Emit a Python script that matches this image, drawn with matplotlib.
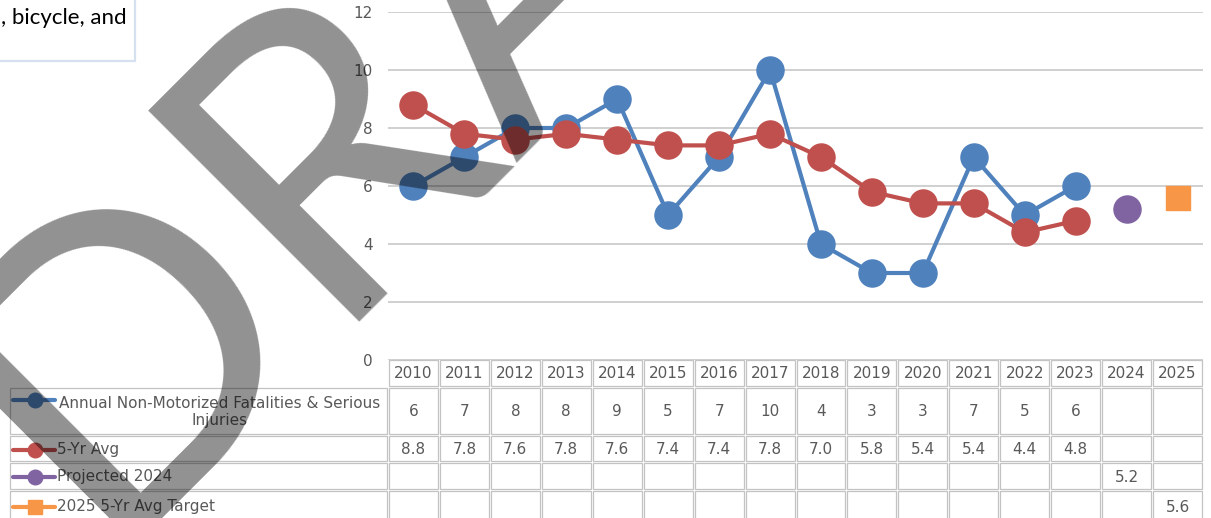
import matplotlib.pyplot as plt
import matplotlib.transforms as mtransforms
from matplotlib.patches import Rectangle
from matplotlib.lines import Line2D
import numpy as np

W, H = 1211, 518

years = ['2010', '2011', '2012', '2013', '2014', '2015', '2016', '2017',
         '2018', '2019', '2020', '2021', '2022', '2023', '2024', '2025']
annual = [6, 7, 8, 8, 9, 5, 7, 10, 4, 3, 3, 7, 5, 6, np.nan, np.nan]
avg5 = [8.8, 7.8, 7.6, 7.8, 7.6, 7.4, 7.4, 7.8, 7.0, 5.8, 5.4, 5.4, 4.4, 4.8, np.nan, np.nan]
projected = [np.nan] * 14 + [5.2, np.nan]
target = [np.nan] * 15 + [5.6]

names = ['Annual Non-Motorized Fatalities & Serious\nInjuries', '5-Yr Avg',
         'Projected 2024', '2025 5-Yr Avg Target']
series = [annual, avg5, projected, target]
colors = ['#4F81BD', '#C0504D', '#8064A2', '#F79646']
markers = ['o', 'o', 'o', 's']
fmts = ['{:.0f}', '{:.1f}', '{:.1f}', '{:.1f}']

txt_col = '#595959'
grid_col = '#C4C4C4'

fig = plt.figure(figsize=(W / 100, H / 100), dpi=100)
# pixel transform: x from left, y from top
pix = mtransforms.Affine2D().scale(1 / W, -1 / H).translate(0, 1) + fig.transFigure

ax = fig.add_axes([388 / W, 1 - 360 / H, (1203 - 388) / W, (360 - 12) / H])
x = np.arange(len(years))
for vals, c, m in zip(series, colors, markers):
    ms = 17.5 if m == 's' else 19.5
    ax.plot(x, vals, color=c, lw=3, marker=m, ms=ms, solid_capstyle='round')

ax.set_xlim(-0.5, len(years) - 0.5)
ax.set_ylim(0, 12)
ax.set_yticks(range(0, 13, 2))
ax.set_xticks([])
ax.tick_params(axis='y', length=0, pad=11, labelsize=11, labelcolor=txt_col)
ax.grid(axis='y', color=grid_col, lw=1.1)
ax.set_axisbelow(True)
for s in ax.spines.values():
    s.set_visible(False)
ax.patch.set_visible(False)

# data table under the plot
tb = mtransforms.blended_transform_factory(ax.transData, pix)
px1 = len(years) / (1203 - 388)  # one pixel in data units
rows = [(359, 387), (387, 435), (435, 462), (462, 490), (490, 522)]
border = '#C3C3C3'


def cell(x0, x1, y0, y1, trans):
    fig.add_artist(Rectangle((x0, y0), x1 - x0, y1 - y0, transform=trans,
                             fill=False, ec=border, lw=0.9, zorder=2))


for i, yr in enumerate(years):
    cell(i - 0.5 + px1, i + 0.5 - px1, rows[0][0] + 1, rows[0][1] - 1, tb)
    fig.text(i, (rows[0][0] + rows[0][1]) / 2 + 1, yr, transform=tb, ha='center', va='center',
             fontsize=11, color=txt_col, zorder=3)

for r, (vals, name, c, m, f) in enumerate(zip(series, names, colors, markers, fmts)):
    y0, y1 = rows[r + 1]
    yc = (y0 + y1) / 2 + 1
    cell(10, 388 - 1, y0 + 1, y1 - 1, pix)
    for i, v in enumerate(vals):
        cell(i - 0.5 + px1, i + 0.5 - px1, y0 + 1, y1 - 1, tb)
        if not np.isnan(v):
            fig.text(i, yc, f.format(v), transform=tb, ha='center', va='center',
                     fontsize=11, color=txt_col, zorder=3)
    ky = 400 if r == 0 else yc
    fig.add_artist(Line2D([13, 55], [ky, ky], transform=pix, color=c, lw=3,
                          solid_capstyle='round', zorder=3))
    fig.add_artist(Line2D([35], [ky], transform=pix, color=c, marker=m,
                          ms=9.5 if m == 's' else 10.5, lw=0, zorder=3))
    if r == 0:
        fig.text(220, yc, name, transform=pix, ha='center', va='center', multialignment='center',
                 fontsize=11, color=txt_col, linespacing=1.15, zorder=3)
    else:
        fig.text(57, yc, name, transform=pix, ha='left', va='center',
                 fontsize=11, color=txt_col, zorder=3)

# text box cut off at the top-left
fig.add_artist(Rectangle((-10, -10), 145, 71, transform=pix, fill=False,
                         ec='#D5E1F0', lw=1.6, zorder=2))
fig.text(127, 18, ', bicycle, and', transform=pix, ha='right', va='center',
         fontsize=16, family='Lato', color='black', zorder=3)

# DRAFT watermark
fig.text(99, 545, 'DRAFT', transform=pix, rotation=45, rotation_mode='anchor',
         ha='left', va='baseline', fontsize=299, family='Lato',
         color='black', alpha=0.43, zorder=20)

fig.savefig('out.png', dpi=100)
